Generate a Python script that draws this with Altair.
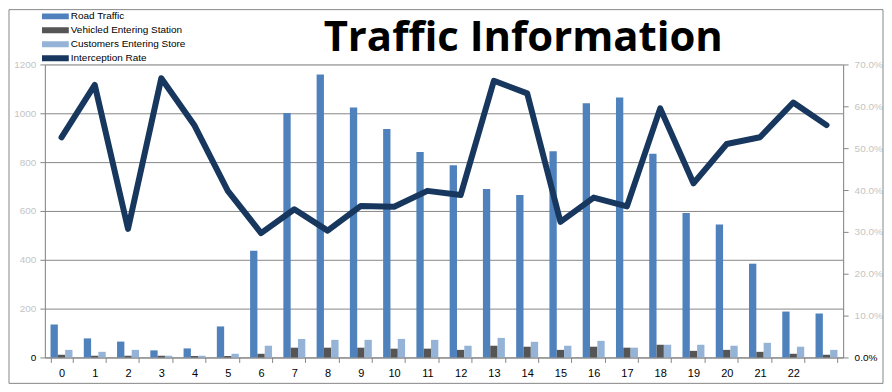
import altair as alt
import pandas as pd

hours = list(range(24))
road_traffic = [135, 78, 65, 29, 37, 127, 437, 1001, 1159, 1024, 936, 841, 787, 690,
                665, 845, 1041, 1065, 834, 592, 544, 384, 188, 180]
vehicles_station = [11, 7, 7, 7, 6, 6, 15, 40, 40, 40, 36, 36, 31, 48, 44, 31, 44, 40,
                    52, 27, 31, 23, 15, 11]
customers_store = [31, 23, 31, 7, 7, 15, 48, 76, 72, 72, 76, 72, 48, 80, 64, 48, 68, 40,
                   52, 52, 48, 60, 44, 31]
interception_rate = [0.526, 0.651, 0.307, 0.667, 0.554, 0.398, 0.297, 0.354, 0.303, 0.362,
                     0.360, 0.398, 0.388, 0.661, 0.631, 0.324, 0.382, 0.361, 0.595, 0.416,
                     0.510, 0.526, 0.609, 0.555]

series_names = ["Road Traffic", "Vehicled Entering Station", "Customers Entering Store",
                "Interception Rate"]
series_colors = ["#4F81BD", "#555555", "#95B3D7", "#17375E"]
left_ticks = [0, 200, 400, 600, 800, 1000, 1200]
right_ticks = [0, 0.1, 0.2, 0.3, 0.4, 0.5, 0.6, 0.7]
chart_title = "Traffic Information"

rows = []
for name, vals in zip(series_names[:3], [road_traffic, vehicles_station, customers_store]):
    for h, v in zip(hours, vals):
        rows.append({"hour": h, "series": name, "value": v})
bar_df = pd.DataFrame(rows)
line_df = pd.DataFrame({"hour": hours, "rate": interception_rate,
                        "series": ["Interception Rate"] * len(hours)})

FONT = "Liberation Sans"
GRID = "#878787"

color_scale = alt.Scale(domain=series_names, range=series_colors)
legend = alt.Legend(
    title=None, orient="none", legendX=-3, legendY=-55,
    symbolType="M-1,-0.22H1V0.22H-1Z", symbolSize=729, symbolStrokeWidth=0,
    clipHeight=13.5, rowPadding=0, padding=0, labelOffset=2,
    labelFont=FONT, labelFontSize=10, labelColor="#000000",
)

x_enc = alt.X(
    "hour:O", title=None,
    scale=alt.Scale(paddingInner=0.34, paddingOuter=0.17),
    axis=alt.Axis(
        labelExpr="datum.value == 23 ? '' : datum.label", labelAngle=0,
        tickBand="extent", tickSize=5, tickColor=GRID, domainColor=GRID,
        labelFont=FONT, labelFontSize=11, labelColor="#000000", labelPadding=5,
        grid=False,
    ),
)

bars = alt.Chart(bar_df).mark_bar().encode(
    x=x_enc,
    xOffset=alt.XOffset("series:N", sort=series_names[:3], scale=alt.Scale(paddingInner=0)),
    y=alt.Y("value:Q", title=None,
            scale=alt.Scale(domain=[0, 1200], nice=False),
            axis=alt.Axis(values=left_ticks, format="d", grid=True, gridColor=GRID, gridOpacity=1,
                          tickSize=5, tickColor=GRID, domainColor=GRID,
                          labelFont=FONT, labelFontSize=10, labelPadding=4,
                          labelColor={"condition": {"test": "datum.value == 0", "value": "#000000"},
                                      "value": "#c4c4c4"})),
    color=alt.Color("series:N", scale=color_scale, legend=legend),
)

line = alt.Chart(line_df).mark_line(strokeWidth=6, strokeCap="round", strokeJoin="round").encode(
    x=alt.X("hour:O"),
    y=alt.Y("rate:Q", title=None,
            scale=alt.Scale(domain=[0, 0.7], nice=False),
            axis=alt.Axis(values=right_ticks, format=".1%", orient="right", grid=False,
                          tickSize=5, tickColor=GRID, domainColor=GRID,
                          labelFont=FONT, labelFontSize=10, labelPadding=6,
                          labelColor={"condition": {"test": "datum.value == 0", "value": "#000000"},
                                      "value": "#c4c4c4"})),
    color=alt.Color("series:N", scale=color_scale, legend=legend),
)

frame = alt.Chart(pd.DataFrame({"f": [0]})).mark_rect(
    fillOpacity=0, stroke=GRID, strokeWidth=1
).encode(x=alt.value(-36), x2=alt.value(841), y=alt.value(-55), y2=alt.value(320))

title = alt.Chart(pd.DataFrame({"t": [chart_title]})).mark_text(
    font="Open Sans", fontSize=42, fontWeight="bold", color="#000000",
    align="center", baseline="alphabetic"
).encode(text="t:N", x=alt.value(480), y=alt.value(-14))

chart = alt.layer(bars, line, frame, title).resolve_scale(y="independent").properties(
    width=801, height=294, padding=0,
).configure_view(stroke=None).configure(background="white")

chart.save("out.html", embed_options={"renderer": "svg", "actions": False})
